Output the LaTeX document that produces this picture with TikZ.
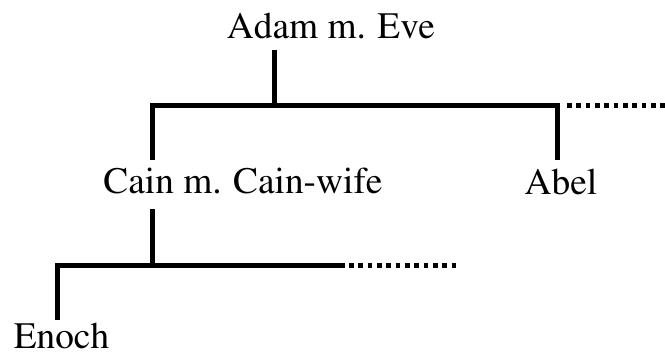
\documentclass[tikz,border=0pt]{standalone}
\usepackage[T1]{fontenc}
\renewcommand{\rmdefault}{ptm}
\begin{document}
\begin{tikzpicture}[x=0.75pt,y=-0.75pt,
  person/.style={anchor=base,inner sep=0pt,font=\rmfamily\fontsize{28}{34}\selectfont},
  bar/.style={line width=3.75pt,line cap=butt,line join=miter},
  more/.style={line width=3.75pt,line cap=butt,dash pattern=on 3.4pt off 3.6pt}]
\useasboundingbox (0,0) rectangle (665,351);

% people
\node[person] (adam)  at (331,38)  {Adam m. Eve};
\node[person] (cain)  at (243,193) {Cain m. Cain-wife};
\node[person] (abel)  at (561,194) {Abel};
\node[person] (enoch) at (61.5,348) {Enoch};

% junction points of the family bars
\coordinate (adamdown) at (274,50);
\coordinate (adamj)    at (274,105);
\coordinate (cainup)   at (152,160);
\coordinate (abelup)   at (557,160);
\coordinate (topend)   at (559.5,105);
\coordinate (topmore)  at (567,105);
\coordinate (topfar)   at (665,105);
\coordinate (caindown) at (152,209);
\coordinate (cainj)    at (152,265.5);
\coordinate (enochup)  at (57,320);
\coordinate (lowend)   at (345,265.5);
\coordinate (lowmore)  at (349,265.5);
\coordinate (lowfar)   at (460,265.5);

% Adam and Eve's children
\draw[bar] (adamdown) -- (adamj);
\draw[bar] (cainup) |- (abelup |- adamj) -- (abelup);
\draw[bar] (abelup |- adamj) -- (topend);
\draw[more] (topmore) -- (topfar);

% Cain's children
\draw[bar] (caindown) -- (cainj);
\draw[bar] (enochup) |- (lowend);
\draw[more] (lowmore) -- (lowfar);
\end{tikzpicture}
\end{document}
